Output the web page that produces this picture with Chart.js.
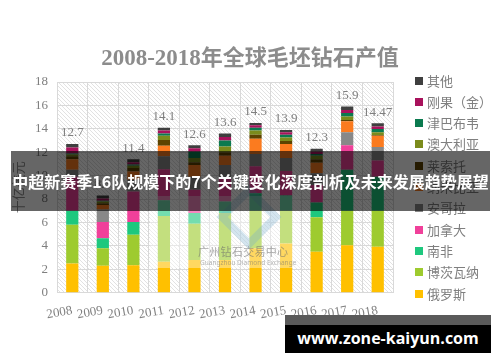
<!DOCTYPE html>
<html><head><meta charset="utf-8">
<script src="https://cdn.jsdelivr.net/npm/chart.js@4.4.0/dist/chart.umd.min.js"></script>
<style>
html,body{margin:0;padding:0;background:#fff;}
#wrap{position:relative;width:500px;height:362px;overflow:hidden;background:#fff;}
#c{position:absolute;left:0;top:0;}
#title{position:absolute;left:0;width:500px;top:40px;text-align:center;color:#8c8c8c;white-space:nowrap;line-height:30px;}
#title .d{font-family:"Liberation Serif","Times New Roman",Times,serif;font-weight:bold;font-size:23px;}
#title .h{font-family:"Noto Sans CJK SC",sans-serif;font-weight:bold;font-size:22px;}
#legend{position:absolute;left:415px;top:0;}
.li{position:absolute;left:0;white-space:nowrap;font:13px "Noto Sans CJK SC",sans-serif;color:#7f7f7f;height:16px;line-height:16px;}
.li i{position:absolute;left:0;top:4px;width:8px;height:8px;}
.li span{position:absolute;left:12px;top:0;}
#wm{position:absolute;left:150px;top:196px;width:150px;height:72px;background:rgba(255,255,255,0.38);}
#logo{position:absolute;left:226px;top:194px;width:30px;height:30px;transform:rotate(45deg);border:8px solid rgba(120,175,205,0.32);}
#wmt1{position:absolute;left:198px;top:243px;font:11px "Noto Sans CJK SC",sans-serif;letter-spacing:0.3px;color:rgba(110,110,110,0.6);white-space:nowrap;}
#wmt2{position:absolute;left:200px;top:258px;font:6.5px "Noto Sans",sans-serif;color:rgba(110,110,110,0.5);white-space:nowrap;}
#banner{position:absolute;left:11px;top:151px;width:479px;height:60px;background:rgba(0,0,0,0.6);color:#fff;text-align:center;font:bold 16px "Noto Sans CJK SC",sans-serif;line-height:60px;white-space:nowrap;}
#url1{position:absolute;left:285px;top:315px;width:206px;height:10px;background:#5a5a5a;}
#url2{position:absolute;left:285px;top:325px;width:206px;height:28px;background:#000;color:#fff;text-align:center;font:bold 16px "Open Sans","Noto Sans",sans-serif;line-height:26px;white-space:nowrap;}
</style></head>
<body><div id="wrap">
<canvas id="c" width="500" height="362"></canvas>
<div id="title"><span class="d">2008-2018</span><span class="h">年全球毛坯钻石产值</span></div>
<div id="legend"></div>
<div id="wm"></div><div id="logo"></div>
<div id="wmt1">广州钻石交易中心</div>
<div id="wmt2">Guangzhou Diamond Exchange</div>
<div id="banner">中超新赛季16队规模下的7个关键变化深度剖析及未来发展趋势展望</div>
<div id="url1"></div><div id="url2">www.zone-kaiyun.com</div>
</div>
<script>
// ---- data (billion USD) ----
const years = ['2008','2009','2010','2011','2012','2013','2014','2015','2016','2017','2018'];
const totals = [12.7, 8.3, 11.4, 14.1, 12.6, 13.6, 14.5, 13.9, 12.3, 15.9, 14.47];
const totalLabels = ['12.7','8.3','11.4','14.1','12.6','13.6','14.5','13.9','12.3','15.9','14.47'];
const russia      = [2.5, 2.3, 2.35, 2.65, 2.8, 2.8, 3.8, 4.2, 3.5, 4.05, 3.93];
const botswana    = [3.3, 1.5, 2.6, 3.9, 3.1, 4.0, 3.2, 2.8, 2.95, 2.95, 3.07];
const southAfrica = [1.2, 0.85, 1.1, 1.35, 0.9, 1.0, 1.5, 1.3, 1.25, 3.5, 2.9];
const canada      = [2.9, 1.4, 2.6, 2.65, 2.0, 2.0, 2.3, 2.1, 1.5, 2.1, 1.4];
const angola      = [0.6, 1.05, 1.0, 1.1, 1.1, 1.1, 1.05, 1.1, 1.0, 1.1, 1.15];
const namibia     = [0.9, 0.4, 0.7, 0.9, 1.0, 0.8, 1.3, 1.2, 0.9, 0.95, 0.95];
const lesotho     = [0.25, 0.15, 0.3, 0.5, 0.25, 0.3, 0.35, 0.25, 0.3, 0.1, 0.08];
const australia   = [0.15, 0.15, 0.2, 0.35, 0.35, 0.5, 0.35, 0.3, 0.3, 0.3, 0.23];
const zimbabwe    = [0.1, 0.05, 0.1, 0.2, 0.55, 0.5, 0.25, 0.25, 0.15, 0.3, 0.28];
const drc         = [0.5, 0.2, 0.2, 0.25, 0.3, 0.3, 0.2, 0.2, 0.2, 0.25, 0.2];
const others      = [0.3, 0.25, 0.25, 0.25, 0.25, 0.3, 0.2, 0.2, 0.25, 0.3, 0.28];
const yTicks = [0, 2, 4, 6, 8, 10, 12, 14, 16, 18];

const seriesNames  = ['俄罗斯','博茨瓦纳','南非','加拿大','安哥拉','纳米比亚','莱索托','澳大利亚','津巴布韦','刚果（金）','其他'];
const seriesValues = [russia, botswana, southAfrica, canada, angola, namibia, lesotho, australia, zimbabwe, drc, others];
const seriesColors = ['#ffc000','#9ecb2f','#1ec87e','#f0409a','#888888','#fb7b1f','#5c4300','#7b8b1c','#0b7a4f','#a8125c','#3f3f3f'];

const SERIF = '"Liberation Serif","Times New Roman",Times,serif';

// legend (top = last series)
const lg = document.getElementById('legend');
for (let k = seriesNames.length - 1, row = 0; k >= 0; k--, row++) {
  const d = document.createElement('div');
  d.className = 'li';
  d.style.top = (72.5 + row * 21.3) + 'px';
  d.innerHTML = '<i style="background:' + seriesColors[k] + '"></i><span>' + seriesNames[k] + '</span>';
  lg.appendChild(d);
}

const hatch = {
  id: 'hatch',
  beforeDraw(chart) {
    const {ctx, chartArea: a} = chart;
    const p = document.createElement('canvas');
    p.width = 4; p.height = 4;
    const pc = p.getContext('2d');
    pc.strokeStyle = '#e2e2e2'; pc.lineWidth = 1;
    pc.beginPath(); pc.moveTo(0, 0); pc.lineTo(4, 4); pc.moveTo(-1, 3); pc.lineTo(1, 5); pc.moveTo(3, -1); pc.lineTo(5, 1); pc.stroke();
    ctx.save();
    ctx.fillStyle = ctx.createPattern(p, 'repeat');
    ctx.fillRect(a.left, a.top, a.right - a.left, a.bottom - a.top);
    ctx.restore();
  }
};
const totalsPlugin = {
  id: 'totals',
  afterDatasetsDraw(chart) {
    const {ctx, scales: {x, y}} = chart;
    ctx.save();
    ctx.font = '13px ' + SERIF;
    ctx.fillStyle = '#7f7f7f';
    ctx.textAlign = 'center';
    ctx.textBaseline = 'middle';
    totals.forEach((t, i) => ctx.fillText(totalLabels[i], x.getPixelForValue(i), y.getPixelForValue(t) - 11));
    ctx.restore();
  }
};

new Chart(document.getElementById('c'), {
  type: 'bar',
  data: {
    labels: years,
    datasets: seriesNames.map((n, k) => ({
      label: n, data: seriesValues[k], backgroundColor: seriesColors[k],
      borderWidth: 0, barPercentage: 0.4, categoryPercentage: 1
    }))
  },
  options: {
    responsive: false, animation: false, devicePixelRatio: 1,
    layout: {padding: {top: 82, right: 107, left: 0, bottom: 0}},
    plugins: {legend: {display: false}, title: {display: false}, tooltip: {enabled: false}},
    scales: {
      x: {
        stacked: true,
        afterFit(s) { s.height = 69.3; },
        grid: {color: '#d9d9d9', drawTicks: false, offset: true},
        border: {color: '#d9d9d9'},
        ticks: {font: {family: SERIF, size: 13}, color: '#7f7f7f', minRotation: 10, maxRotation: 10, padding: 10}
      },
      y: {
        stacked: true, min: 0, max: 18,
        afterFit(s) { s.width = 57; },
        afterBuildTicks(s) { s.ticks = yTicks.map(v => ({value: v})); },
        grid: {color: '#d9d9d9', drawTicks: false},
        border: {color: '#d9d9d9'},
        title: {display: true, text: '十亿美元', color: '#8c8c8c', font: {family: '"Noto Sans CJK SC",sans-serif', size: 13}, padding: {top: 10, bottom: 0}},
        ticks: {font: {family: SERIF, size: 13}, color: '#7f7f7f', padding: 9}
      }
    }
  },
  plugins: [hatch, totalsPlugin]
});
</script>
</body></html>
